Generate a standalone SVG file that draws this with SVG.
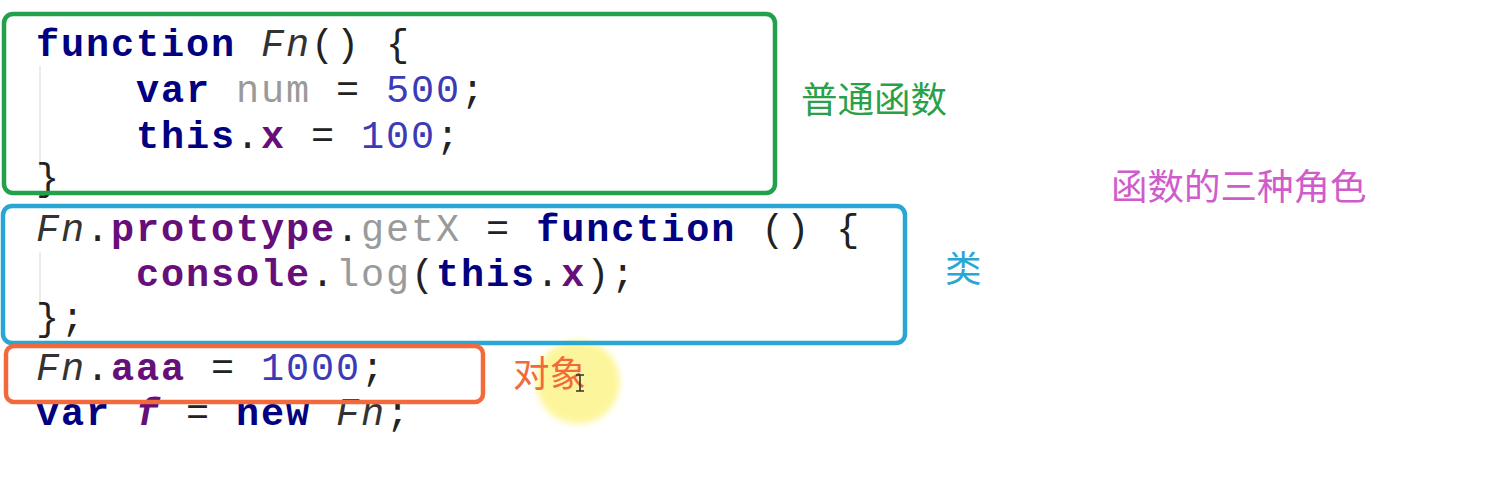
<svg xmlns="http://www.w3.org/2000/svg" width="1512" height="482" viewBox="0 0 1512 482">
<defs>
<filter id="soft" x="-30%" y="-30%" width="160%" height="160%"><feGaussianBlur stdDeviation="3"/></filter>
</defs>
<style>
.code{font-family:"Liberation Mono","Courier New",monospace;font-size:38.5px;letter-spacing:1.9px;fill:#222;}
.kw{font-weight:bold;fill:#000080;}
.it{font-style:italic;fill:#333;}
.gr{fill:#9a9a9a;}
.num{fill:#3b3bb8;}
.pu{font-weight:bold;fill:#660e7a;}
.lbl{font-family:"Noto Sans CJK SC","Noto Sans",sans-serif;font-size:36.5px;}
.box{fill:none;stroke-width:4.5;}
.guide{stroke:#e4e4e4;stroke-width:1.5;}
</style>
<rect width="1512" height="482" fill="#ffffff"/>
<g id="guides">
<line class="guide" x1="40" y1="66" x2="40" y2="168"/>
<line class="guide" x1="40" y1="252" x2="40" y2="306"/>
</g>
<g id="code">
<text class="code" x="36" y="56" xml:space="preserve"><tspan class="kw">function</tspan> <tspan class="it">Fn</tspan>() {</text>
<text class="code" x="36" y="102" xml:space="preserve">    <tspan class="kw">var</tspan> <tspan class="gr">num</tspan> = <tspan class="num">500</tspan>;</text>
<text class="code" x="36" y="148" xml:space="preserve">    <tspan class="kw">this</tspan>.<tspan class="pu">x</tspan> = <tspan class="num">100</tspan>;</text>
<text class="code" x="36" y="190" xml:space="preserve">}</text>
<text class="code" x="36" y="241" xml:space="preserve"><tspan class="it">Fn</tspan>.<tspan class="pu">prototype</tspan>.<tspan class="gr">getX</tspan> = <tspan class="kw">function</tspan> () {</text>
<text class="code" x="36" y="286" xml:space="preserve">    <tspan class="pu">console</tspan>.<tspan class="gr">log</tspan>(<tspan class="kw">this</tspan>.<tspan class="pu">x</tspan>);</text>
<text class="code" x="36" y="330" xml:space="preserve">};</text>
<text class="code" x="36" y="380" xml:space="preserve"><tspan class="it">Fn</tspan>.<tspan class="pu">aaa</tspan> = <tspan class="num">1000</tspan>;</text>
<text class="code" x="36" y="425" xml:space="preserve"><tspan class="kw">var</tspan> <tspan class="pu" font-style="italic">f</tspan> = <tspan class="kw">new</tspan> <tspan class="it">Fn</tspan>;</text>
</g>
<g id="highlight">
<circle cx="578" cy="382" r="42" fill="#fdf48a" opacity="0.85" filter="url(#soft)"/>
</g>
<g id="box-normal">
<rect class="box" x="4" y="14" width="771" height="179" rx="9" stroke="#22a04b"/>
<text class="lbl" x="801" y="113" fill="#2aa04a">普通函数</text>
</g>
<g id="box-class">
<rect class="box" x="3" y="206" width="902" height="137" rx="9" stroke="#2aa6d4"/>
<text class="lbl" x="945" y="282" fill="#2aa6d4">类</text>
</g>
<g id="box-object">
<rect class="box" x="6" y="346" width="477" height="56" rx="8" stroke="#f26a3c"/>
<text class="lbl" x="513" y="387" fill="#f26a3c">对象</text>
</g>
<g id="title">
<text class="lbl" x="1111" y="200" fill="#d05ccb" font-size="37.5">函数的三种角色</text>
</g>
<g id="cursor" stroke="#333" stroke-width="1.6" fill="none">
<path d="M576 375 H584 M580 375 V391 M576 391 H584"/>
</g>
</svg>
